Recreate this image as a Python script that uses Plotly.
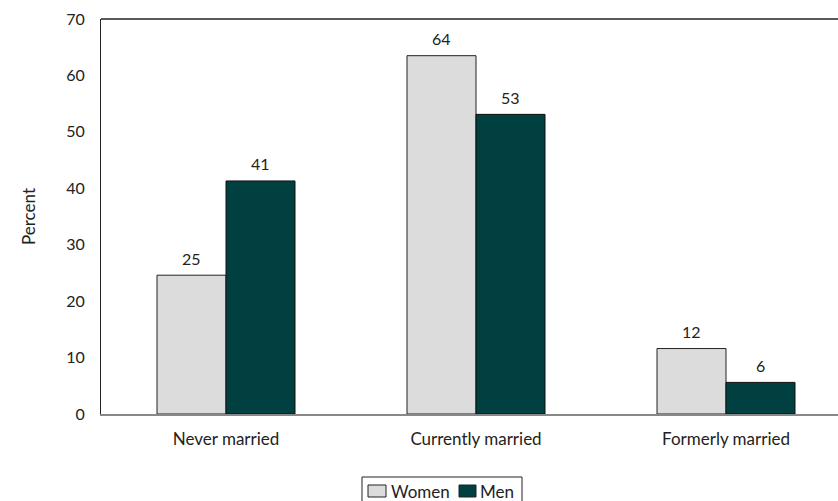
import plotly.graph_objects as go

categories = ["Never married", "Currently married", "Formerly married"]
women = [24.6, 63.5, 11.6]
men = [41.3, 53.1, 5.6]
women_labels = ["25", "64", "12"]
men_labels = ["41", "53", "6"]
y_ticks = [0, 10, 20, 30, 40, 50, 60, 70]
series_names = ["Women", "Men"]
series_colors = ["#dcdcdc", "#004040"]

W, H = 838, 501
L, R, T, B = 101, 0, 19, 87
FAM = "Lato"
INK = "#222222"
num_font = dict(family=FAM, size=16, color=INK)
txt_font = dict(family=FAM, size=17, color=INK)


def px(x):
    return (x - L) / (W - L - R)


def py(y):
    return (H - B - y) / (H - T - B)


fig = go.Figure()
fig.add_trace(go.Bar(name=series_names[0], x=categories, y=women,
                     marker=dict(color=series_colors[0], line=dict(color=INK, width=1)),
                     showlegend=False))
fig.add_trace(go.Bar(name=series_names[1], x=categories, y=men,
                     marker=dict(color=series_colors[1], line=dict(color="#111111", width=1)),
                     showlegend=False))

annotations = []
for vals, labs, shift in [(women, women_labels, -34.5), (men, men_labels, 34.5)]:
    for c, v, t in zip(categories, vals, labs):
        annotations.append(dict(x=c, y=v, text=t, xref="x", yref="y", showarrow=False,
                                xshift=shift, yshift=17, xanchor="center", yanchor="middle",
                                font=num_font))

shapes = [dict(type="line", xref="paper", yref="paper", x0=0, x1=1, y0=1, y1=1,
               line=dict(color=INK, width=1.5))]
# legend box
shapes.append(dict(type="rect", xref="paper", yref="paper",
                   x0=px(362), x1=px(522), y0=py(503), y1=py(477),
                   line=dict(color=INK, width=1), fillcolor="white"))
sw = [(368, 386, 389), (459, 476, 478)]
for (a, b, t), name, col in zip(sw, series_names, series_colors):
    shapes.append(dict(type="rect", xref="paper", yref="paper",
                       x0=px(a), x1=px(b), y0=py(497), y1=py(485),
                       line=dict(color=INK, width=1), fillcolor=col))
    annotations.append(dict(text=name, xref="paper", yref="paper", x=px(t), y=py(491),
                            xanchor="left", yanchor="middle", showarrow=False,
                            font=txt_font))

fig.update_layout(
    width=W, height=H,
    margin=dict(l=L, r=R, t=T, b=B, autoexpand=False),
    paper_bgcolor="white", plot_bgcolor="white",
    barmode="group", bargap=0.448, bargroupgap=0,
    font=num_font,
    showlegend=False,
    xaxis=dict(range=[-0.5, 2.448], showline=True, linecolor="#888888", linewidth=1.5,
               ticks="", showgrid=False, tickfont=txt_font, automargin=False,
               ticklabelstandoff=9),
    yaxis=dict(range=[0, 70], tickvals=y_ticks, showline=True, linecolor=INK, linewidth=1,
               ticks="", showgrid=False, zeroline=False, tickfont=num_font, automargin=False,
               ticklabelstandoff=12,
               title=dict(text="Percent", font=txt_font, standoff=26)),
    shapes=shapes,
    annotations=annotations,
)

fig.write_html("out.html", config={"displayModeBar": False},
               post_script="document.body.style.margin='0';")
